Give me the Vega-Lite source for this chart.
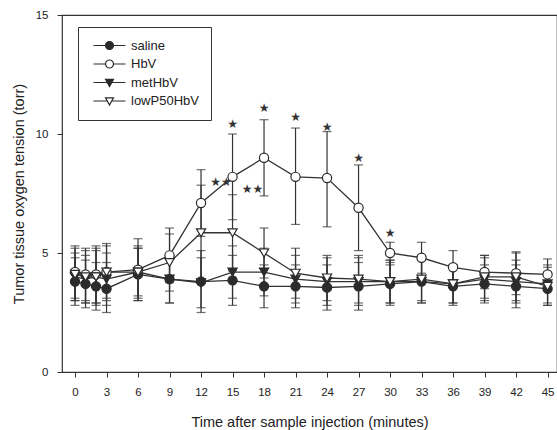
{
  "$schema": "https://vega.github.io/schema/vega-lite/v6.json",
  "width": 495,
  "height": 357,
  "autosize": "none",
  "padding": {"left": 62, "top": 15, "right": 0, "bottom": 58},
  "background": "white",
  "config": {
    "font": "Liberation Sans",
    "view": {"stroke": "#333", "strokeWidth": 1.2},
    "axis": {"domain": false, "grid": false, "tickColor": "#333", "labelColor": "#222", "titleColor": "#222", "labelFont": "Liberation Sans", "titleFont": "Liberation Sans", "titleFontWeight": "normal", "labelFontSize": 11.5, "titleFontSize": 14.5, "tickSize": 5, "labelOverlap": false, "labelFlush": false}
  },
  "datasets": {
    "main": [
      {"group": "saline", "t": 0, "mean": 3.8, "lo": 2.8, "hi": 4.8},
      {"group": "saline", "t": 1, "mean": 3.7, "lo": 2.7, "hi": 4.7},
      {"group": "saline", "t": 2, "mean": 3.6, "lo": 2.6, "hi": 4.6},
      {"group": "saline", "t": 3, "mean": 3.5, "lo": 2.5, "hi": 4.6},
      {"group": "saline", "t": 6, "mean": 4.1, "lo": 3.0, "hi": 5.2},
      {"group": "saline", "t": 9, "mean": 3.9, "lo": 2.9, "hi": 4.9},
      {"group": "saline", "t": 12, "mean": 3.8, "lo": 2.5, "hi": 5.1},
      {"group": "saline", "t": 15, "mean": 3.85, "lo": 2.8, "hi": 4.9},
      {"group": "saline", "t": 18, "mean": 3.6, "lo": 2.7, "hi": 4.5},
      {"group": "saline", "t": 21, "mean": 3.6, "lo": 2.7, "hi": 4.5},
      {"group": "saline", "t": 24, "mean": 3.55, "lo": 2.6, "hi": 4.5},
      {"group": "saline", "t": 27, "mean": 3.6, "lo": 2.6, "hi": 4.6},
      {"group": "saline", "t": 30, "mean": 3.7, "lo": 2.8, "hi": 4.6},
      {"group": "saline", "t": 33, "mean": 3.8, "lo": 2.9, "hi": 4.7},
      {"group": "saline", "t": 36, "mean": 3.6, "lo": 2.8, "hi": 4.4},
      {"group": "saline", "t": 39, "mean": 3.7, "lo": 2.9, "hi": 4.5},
      {"group": "saline", "t": 42, "mean": 3.6, "lo": 2.7, "hi": 4.5},
      {"group": "saline", "t": 45, "mean": 3.5, "lo": 2.8, "hi": 4.2},
      {"group": "HbV", "t": 0, "mean": 4.2, "lo": 3.1, "hi": 5.3},
      {"group": "HbV", "t": 1, "mean": 4.1, "lo": 3.0, "hi": 5.2},
      {"group": "HbV", "t": 2, "mean": 4.1, "lo": 2.9, "hi": 5.3},
      {"group": "HbV", "t": 3, "mean": 4.2, "lo": 3.0, "hi": 5.4},
      {"group": "HbV", "t": 6, "mean": 4.3, "lo": 3.0, "hi": 5.6},
      {"group": "HbV", "t": 9, "mean": 4.9, "lo": 3.75, "hi": 6.05},
      {"group": "HbV", "t": 12, "mean": 7.1, "lo": 5.7, "hi": 8.5},
      {"group": "HbV", "t": 15, "mean": 8.2, "lo": 6.4, "hi": 10.0},
      {"group": "HbV", "t": 18, "mean": 9.0, "lo": 7.4, "hi": 10.6},
      {"group": "HbV", "t": 21, "mean": 8.2, "lo": 6.2, "hi": 10.25},
      {"group": "HbV", "t": 24, "mean": 8.15, "lo": 6.1, "hi": 10.1},
      {"group": "HbV", "t": 27, "mean": 6.9, "lo": 5.1, "hi": 8.7},
      {"group": "HbV", "t": 30, "mean": 5.0, "lo": 4.5, "hi": 5.45},
      {"group": "HbV", "t": 33, "mean": 4.8, "lo": 4.15, "hi": 5.45},
      {"group": "HbV", "t": 36, "mean": 4.4, "lo": 3.7, "hi": 5.1},
      {"group": "HbV", "t": 39, "mean": 4.2, "lo": 3.5, "hi": 4.9},
      {"group": "HbV", "t": 42, "mean": 4.15, "lo": 3.25, "hi": 5.05},
      {"group": "HbV", "t": 45, "mean": 4.1, "lo": 3.45, "hi": 4.75},
      {"group": "metHbV", "t": 0, "mean": 4.0, "lo": 3.0, "hi": 5.0},
      {"group": "metHbV", "t": 1, "mean": 3.9, "lo": 2.9, "hi": 4.9},
      {"group": "metHbV", "t": 2, "mean": 4.0, "lo": 2.9, "hi": 5.1},
      {"group": "metHbV", "t": 3, "mean": 3.9, "lo": 2.8, "hi": 5.0},
      {"group": "metHbV", "t": 6, "mean": 4.2, "lo": 3.2, "hi": 5.2},
      {"group": "metHbV", "t": 9, "mean": 3.9, "lo": 2.9, "hi": 4.9},
      {"group": "metHbV", "t": 12, "mean": 3.75, "lo": 2.7, "hi": 4.8},
      {"group": "metHbV", "t": 15, "mean": 4.2, "lo": 3.1, "hi": 5.3},
      {"group": "metHbV", "t": 18, "mean": 4.2, "lo": 3.2, "hi": 5.2},
      {"group": "metHbV", "t": 21, "mean": 3.9, "lo": 2.9, "hi": 4.9},
      {"group": "metHbV", "t": 24, "mean": 3.8, "lo": 2.8, "hi": 4.8},
      {"group": "metHbV", "t": 27, "mean": 3.8, "lo": 2.8, "hi": 4.8},
      {"group": "metHbV", "t": 30, "mean": 3.8, "lo": 2.9, "hi": 4.7},
      {"group": "metHbV", "t": 33, "mean": 3.8, "lo": 2.9, "hi": 4.7},
      {"group": "metHbV", "t": 36, "mean": 3.7, "lo": 2.9, "hi": 4.5},
      {"group": "metHbV", "t": 39, "mean": 3.9, "lo": 3.0, "hi": 4.8},
      {"group": "metHbV", "t": 42, "mean": 3.8, "lo": 2.9, "hi": 4.7},
      {"group": "metHbV", "t": 45, "mean": 3.7, "lo": 2.9, "hi": 4.5},
      {"group": "lowP50HbV", "t": 0, "mean": 4.1, "lo": 3.0, "hi": 5.2},
      {"group": "lowP50HbV", "t": 1, "mean": 4.0, "lo": 2.9, "hi": 5.1},
      {"group": "lowP50HbV", "t": 2, "mean": 4.0, "lo": 2.8, "hi": 5.2},
      {"group": "lowP50HbV", "t": 3, "mean": 4.2, "lo": 3.1, "hi": 5.3},
      {"group": "lowP50HbV", "t": 6, "mean": 4.2, "lo": 3.1, "hi": 5.3},
      {"group": "lowP50HbV", "t": 9, "mean": 4.6, "lo": 3.4, "hi": 5.8},
      {"group": "lowP50HbV", "t": 12, "mean": 5.85, "lo": 3.85, "hi": 7.85},
      {"group": "lowP50HbV", "t": 15, "mean": 5.85, "lo": 4.25, "hi": 7.45},
      {"group": "lowP50HbV", "t": 18, "mean": 5.0, "lo": 3.95, "hi": 6.05},
      {"group": "lowP50HbV", "t": 21, "mean": 4.15, "lo": 3.1, "hi": 5.2},
      {"group": "lowP50HbV", "t": 24, "mean": 3.95, "lo": 3.0, "hi": 4.9},
      {"group": "lowP50HbV", "t": 27, "mean": 3.9, "lo": 2.9, "hi": 4.9},
      {"group": "lowP50HbV", "t": 30, "mean": 3.8, "lo": 2.9, "hi": 4.7},
      {"group": "lowP50HbV", "t": 33, "mean": 3.9, "lo": 3.0, "hi": 4.8},
      {"group": "lowP50HbV", "t": 36, "mean": 3.7, "lo": 2.9, "hi": 4.5},
      {"group": "lowP50HbV", "t": 39, "mean": 4.0, "lo": 3.1, "hi": 4.9},
      {"group": "lowP50HbV", "t": 42, "mean": 4.0, "lo": 3.0, "hi": 5.0},
      {"group": "lowP50HbV", "t": 45, "mean": 3.6, "lo": 2.8, "hi": 4.4}
    ],
    "stars": [
      {"t": 15, "y": 10.4, "label": "★"},
      {"t": 18, "y": 11.1, "label": "★"},
      {"t": 21, "y": 10.7, "label": "★"},
      {"t": 24, "y": 10.3, "label": "★"},
      {"t": 27, "y": 9.0, "label": "★"},
      {"t": 30, "y": 5.85, "label": "★"},
      {"t": 13.9, "y": 8.0, "label": "★★"},
      {"t": 16.9, "y": 7.7, "label": "★★"}
    ]
  },
  "resolve": {"scale": {"shape": "independent", "fill": "independent"}, "legend": {"shape": "independent", "fill": "independent"}},
  "encoding": {
    "x": {"field": "t", "type": "quantitative", "scale": {"domain": [-1.24, 45.9], "nice": false, "zero": false}, "axis": {"values": [0,3,6,9,12,15,18,21,24,27,30,33,36,39,42,45], "tickCount": 16, "labelOverlap": false, "labelFlush": false, "labelBound": false, "title": "Time after sample injection (minutes)", "labelPadding": 9, "titlePadding": 18}}
  },
  "layer": [
    {
      "data": {"name": "main"},
      "mark": {"type": "line", "color": "#333", "strokeWidth": 1.3},
      "encoding": {
        "y": {"field": "mean", "type": "quantitative", "scale": {"domain": [0, 15], "nice": false}, "axis": {"values": [0, 5, 10, 15], "labelOverlap": false, "title": "Tumor tissue oxygen tension (torr)", "labelPadding": 9, "titlePadding": 9}},
        "detail": {"field": "group"}
      }
    },
    {
      "data": {"name": "main"},
      "mark": {"type": "rule", "color": "#333", "strokeWidth": 1.2},
      "encoding": {
        "y": {"field": "lo", "type": "quantitative"},
        "y2": {"field": "hi"}
      }
    },
    {
      "data": {"name": "main"},
      "mark": {"type": "tick", "orient": "horizontal", "color": "#333", "size": 9, "thickness": 1.2},
      "encoding": {
        "y": {"field": "lo", "type": "quantitative"}
      }
    },
    {
      "data": {"name": "main"},
      "mark": {"type": "tick", "orient": "horizontal", "color": "#333", "size": 9, "thickness": 1.2},
      "encoding": {
        "y": {"field": "hi", "type": "quantitative"}
      }
    },
    {
      "data": {"name": "main"},
      "mark": {"type": "point", "filled": true, "stroke": "#2b2b2b", "strokeWidth": 1.2, "size": 85, "opacity": 1},
      "encoding": {
        "y": {"field": "mean", "type": "quantitative"},
        "shape": {"field": "group", "type": "nominal", "scale": {"domain": ["saline", "HbV", "metHbV", "lowP50HbV"], "range": ["circle", "circle", "triangle-down", "triangle-down"]}, "legend": null},
        "fill": {"field": "group", "type": "nominal", "scale": {"domain": ["saline", "HbV", "metHbV", "lowP50HbV"], "range": ["#2b2b2b", "white", "#2b2b2b", "white"]}, "legend": null}
      }
    },
    {
      "data": {"name": "main"},
      "mark": {"type": "point", "filled": true, "stroke": "#2b2b2b", "size": 64, "opacity": 0},
      "encoding": {
        "y": {"field": "mean", "type": "quantitative"},
        "shape": {"field": "group", "type": "nominal", "scale": {"domain": ["saline", "HbV", "metHbV", "lowP50HbV"], "range": [
          "M-4,0H-1M1,0H4M1,0A1,1,0,1,1,-1,0A1,1,0,1,1,1,0Z",
          "M-4,0H-1M1,0H4M1,0A1,1,0,1,1,-1,0A1,1,0,1,1,1,0Z",
          "M-4,0H4M-1,-0.8L1,-0.8L0,1Z",
          "M-4,0H-0.56M0.56,0H4M-1,-0.8L1,-0.8L0,1Z"
        ]},
          "legend": {"title": null, "orient": "none", "legendX": 16, "legendY": 12, "strokeColor": "#333", "padding": 12, "labelFontSize": 13, "labelColor": "#222", "labelFont": "Liberation Sans", "symbolSize": 64, "symbolOffset": 13, "labelOffset": 15, "rowPadding": 4.5, "symbolStrokeColor": "#2b2b2b", "symbolStrokeWidth": 1.2, "symbolOpacity": 1,
            "encode": {"symbols": {"update": {"stroke": {"value": "#2b2b2b"}, "strokeWidth": {"value": 1.2}, "opacity": {"value": 1}}}}}},
        "fill": {"field": "group", "type": "nominal", "scale": {"domain": ["saline", "HbV", "metHbV", "lowP50HbV"], "range": ["#2b2b2b", "white", "#2b2b2b", "white"]},
          "legend": {"title": null, "orient": "none", "legendX": 16, "legendY": 12, "strokeColor": "#333", "padding": 12, "labelFontSize": 13, "labelColor": "#222", "labelFont": "Liberation Sans", "symbolSize": 64, "symbolOffset": 13, "labelOffset": 15, "rowPadding": 4.5, "symbolStrokeColor": "#2b2b2b", "symbolStrokeWidth": 1.2, "symbolOpacity": 1,
            "encode": {"symbols": {"update": {"stroke": {"value": "#2b2b2b"}, "strokeWidth": {"value": 1.2}, "opacity": {"value": 1}}}}}}
      }
    },
    {
      "data": {"name": "stars"},
      "mark": {"type": "text", "font": "DejaVu Sans", "fontSize": 12, "color": "#333", "baseline": "middle", "align": "center"},
      "encoding": {
        "y": {"field": "y", "type": "quantitative"},
        "text": {"field": "label"}
      }
    }
  ]
}
